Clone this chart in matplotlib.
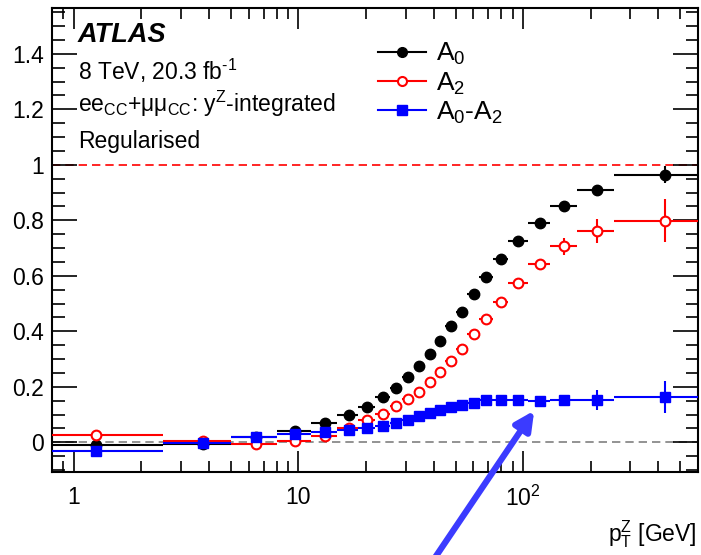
import numpy as np
import matplotlib
matplotlib.use("Agg")
import matplotlib.pyplot as plt
from matplotlib.lines import Line2D
from matplotlib.ticker import FixedLocator, LogLocator, MultipleLocator, NullFormatter

plt.rcParams['font.family'] = ['Liberation Sans', 'DejaVu Sans']
plt.rcParams['mathtext.fontset'] = 'custom'
plt.rcParams['mathtext.rm'] = 'Liberation Sans'
plt.rcParams['mathtext.it'] = 'Liberation Sans'
plt.rcParams['mathtext.bf'] = 'Liberation Sans:bold'

# pT(Z) bin edges [GeV]
edges = np.array([0, 2.5, 5.0, 8.0, 11.4, 14.9, 18.5, 22.0, 25.5, 29.0, 32.6, 36.4,
                  40.4, 44.9, 50.2, 56.4, 63.9, 73.4, 85.4, 105.0, 132.0, 173.0, 253.0, 600.0])

# A0
a0 = [-0.009, -0.005, 0.020, 0.041, 0.071, 0.099, 0.129, 0.163, 0.195, 0.234, 0.276, 0.319,
      0.366, 0.420, 0.471, 0.533, 0.596, 0.659, 0.726, 0.790, 0.853, 0.910, 0.964]
a0_err = [0.010, 0.004, 0.004, 0.004, 0.004, 0.004, 0.004, 0.004, 0.004, 0.004, 0.004, 0.004,
          0.004, 0.004, 0.004, 0.004, 0.005, 0.005, 0.006, 0.008, 0.010, 0.012, 0.030]

# A2
a2 = [0.027, 0.004, -0.006, 0.004, 0.021, 0.052, 0.079, 0.103, 0.130, 0.156, 0.183, 0.217,
      0.252, 0.294, 0.336, 0.392, 0.445, 0.507, 0.574, 0.642, 0.706, 0.762, 0.799]
a2_err = [0.008, 0.006, 0.006, 0.006, 0.006, 0.006, 0.006, 0.006, 0.006, 0.006, 0.006, 0.006,
          0.006, 0.006, 0.007, 0.008, 0.009, 0.010, 0.012, 0.016, 0.030, 0.044, 0.078]

# A0-A2
a02 = [-0.033, -0.003, 0.018, 0.030, 0.038, 0.045, 0.053, 0.060, 0.068, 0.081, 0.093, 0.105,
       0.117, 0.128, 0.135, 0.143, 0.151, 0.153, 0.153, 0.150, 0.151, 0.153, 0.163]
a02_err = [0.020, 0.004, 0.004, 0.004, 0.004, 0.004, 0.004, 0.004, 0.004, 0.004, 0.004, 0.004,
           0.004, 0.004, 0.004, 0.004, 0.005, 0.005, 0.008, 0.010, 0.020, 0.036, 0.059]

W, H = 701, 555
fig = plt.figure(figsize=(W / 100, H / 100), dpi=100)
ax = fig.add_axes([52 / W, 1 - 472 / H, 646 / W, 464 / H])

mid = 0.5 * (edges[:-1] + edges[1:])
lo = np.maximum(edges[:-1], 1e-2)
xerr = [mid - lo, edges[1:] - mid]

ax.axhline(1, color='red', ls=(0, (5, 3)), lw=1.2, zorder=1)
ax.axhline(0, color='grey', ls=(0, (5, 3)), lw=1.2, zorder=1)

ax.errorbar(mid, a0, yerr=a0_err, xerr=xerr, fmt='o', color='black', ms=7.5,
            elinewidth=1.5, capsize=0, zorder=3)
ax.errorbar(mid, a2, yerr=a2_err, xerr=xerr, fmt='o', color='red', mfc='white', mec='red',
            mew=1.5, ms=7, elinewidth=1.5, capsize=0, zorder=4)
ax.errorbar(mid, a02, yerr=a02_err, xerr=xerr, fmt='s', color='blue', ms=7,
            elinewidth=1.5, capsize=0, zorder=5)

ax.set_xscale('log')
ax.set_xlim(0.8, 600)
ax.set_ylim(-0.107, 1.565)

ax.xaxis.set_major_locator(FixedLocator([1, 10, 100]))
ax.set_xticklabels(['1', '10', '$10^{2}$'])
ax.xaxis.set_minor_locator(LogLocator(base=10, subs=np.arange(2, 10)))
ax.xaxis.set_minor_formatter(NullFormatter())
ax.yaxis.set_minor_locator(MultipleLocator(0.05))
ax.set_yticks(np.arange(0, 1.41, 0.2))
ax.set_yticklabels(['0', '0.2', '0.4', '0.6', '0.8', '1', '1.2', '1.4'])

ax.tick_params(which='both', direction='in', top=True, right=True, labelsize=16.5, width=1.2)
ax.tick_params(axis='y', which='major', length=18, pad=6)
ax.tick_params(axis='y', which='minor', length=9)
ax.tick_params(axis='x', which='major', length=15, pad=10)
ax.tick_params(axis='x', which='minor', length=8)
for s in ax.spines.values():
    s.set_linewidth(1.5)

# labels
ax.text(0.040, 0.927, 'ATLAS', transform=ax.transAxes, fontsize=19.5,
        fontweight='bold', fontstyle='italic')
ax.text(0.040, 0.845, r'8 TeV, 20.3 fb$^{\text{-1}}$', transform=ax.transAxes, fontsize=16.5)
ax.text(0.040, 0.776, r'ee$_{\rm CC}$+μμ$_{\rm CC}$: y$^{\rm Z}$-integrated',
        transform=ax.transAxes, fontsize=16.5)
ax.text(0.040, 0.698, 'Regularised', transform=ax.transAxes, fontsize=16.5)

handles = [
    Line2D([], [], color='black', marker='o', ms=7, lw=1.5),
    Line2D([], [], color='red', marker='o', mfc='white', mew=1.5, ms=6.5, lw=1.5),
    Line2D([], [], color='blue', marker='s', ms=6.5, lw=1.5),
]
labels = ['A$_{0}$', 'A$_{2}$', 'A$_{0}$-A$_{2}$']
ax.legend(handles, labels, loc='upper left', bbox_to_anchor=((378 - 52) / 646, (472 - 41) / 464),
          frameon=False, fontsize=19, handlelength=1.8, handletextpad=0.4,
          labelspacing=0.12, borderpad=0, borderaxespad=0)

fig.text(697 / W, 1 - 541 / H, r'$\mathrm{p}_{\mathrm{T}}^{\mathrm{Z}}$ [GeV]', ha='right',
         va='baseline', fontsize=16.5)

ax.annotate('', xy=(112, 0.114), xycoords='data', xytext=(433 / W, -0.01),
            textcoords='figure fraction', annotation_clip=False,
            arrowprops=dict(arrowstyle='-|>', lw=4.5, color='#3b3bff', mutation_scale=28,
                            shrinkA=0, shrinkB=0))

fig.savefig('out.png', dpi=100)
